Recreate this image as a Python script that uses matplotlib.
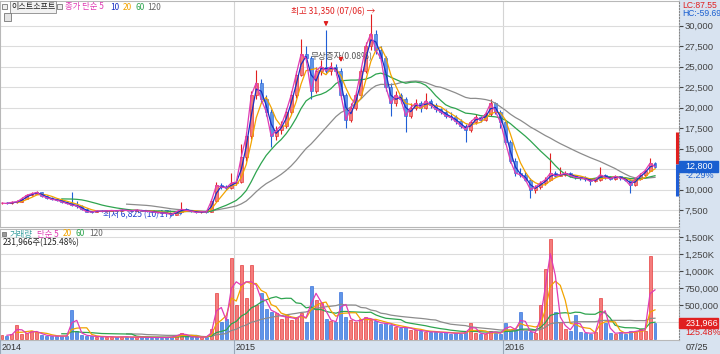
import numpy as np
import pandas as pd
import matplotlib
matplotlib.use('Agg')
import matplotlib.pyplot as plt
from matplotlib.patches import Rectangle
from matplotlib.ticker import FixedLocator, FixedFormatter

plt.rcParams['font.family'] = ['Noto Sans CJK KR', 'DejaVu Sans']

# 이스트소프트, weekly samples 2014-01 .. 2016-07-25
opens = [8300, 8350, 8300, 8450, 8500, 8900, 9300, 9500, 9650, 9200,
         9000, 8800, 8700, 8500, 8300, 8100, 8000, 7600, 7300, 7250,
         7400, 7350, 7400, 7450, 7400, 7500, 7450, 7400, 7500, 7400,
         7350, 7300, 7200, 7150, 7100, 6950, 7300, 7600, 7450, 7350,
         7200, 7300, 7250, 8600, 10500, 10300, 10200, 10800, 10900, 14000,
         16500, 21500, 23000, 21000, 19500, 16500, 17200, 17800, 19500, 21500,
         24000, 26500, 26000, 22000, 24500, 25000, 24500, 25000, 24500, 21500,
         18500, 20000, 21500, 24500, 27500, 29000, 27000, 26000, 22500, 20500,
         21500, 21000, 19000, 20000, 20500, 20000, 20800, 20300, 19800, 19500,
         19000, 18800, 18300, 17800, 17300, 18200, 18800, 18500, 19200, 20500,
         19500, 18200, 15800, 13500, 12000, 11800, 11200, 10000, 10300, 10800,
         11200, 12000, 11700, 11800, 12000, 11700, 11500, 11400, 11300, 11000,
         11200, 11800, 11500, 11300, 11600, 11400, 11200, 10500, 11300, 11800,
         12300, 13200]
highs = [8500, 8450, 8600, 8700, 9100, 9400, 9700, 9800, 9700, 9300,
         9100, 8950, 8800, 8600, 9700, 8600, 8100, 7700, 7400, 7500,
         7450, 7500, 7550, 7500, 7650, 7600, 7500, 7650, 7550, 7450,
         7400, 7350, 7300, 7200, 7150, 7400, 8480, 7700, 7500, 7400,
         7400, 7350, 8800, 10900, 10800, 10500, 12000, 11200, 15600, 17000,
         22000, 24600, 23500, 21500, 19800, 17800, 18300, 20000, 22000, 24500,
         28400, 27500, 26300, 25000, 25800, 29400, 25500, 25300, 24800, 21800,
         20500, 22000, 25000, 28000, 31350, 29500, 27500, 26300, 23000, 22000,
         21800, 21300, 20500, 21000, 20800, 21800, 21000, 20500, 20000, 19800,
         19400, 19100, 18600, 18000, 18500, 19200, 19000, 19500, 21000, 20700,
         19700, 18400, 16000, 13800, 12600, 12100, 11400, 10600, 11000, 11500,
         14400, 12300, 12800, 12300, 12100, 11800, 11700, 11600, 11400, 11400,
         12700, 11900, 11700, 11800, 11700, 11500, 11300, 11400, 12000, 12500,
         13800, 13300]
lows = [8200, 8200, 8250, 8400, 8450, 8800, 9200, 9400, 9100, 8900,
        8700, 8600, 8400, 8200, 8000, 7800, 7500, 7200, 7150, 7200,
        7250, 7300, 7350, 7300, 7350, 7400, 7300, 7350, 7350, 7300,
        7200, 7100, 7050, 7000, 6825, 6900, 7250, 7350, 7250, 7100,
        7150, 7150, 7200, 8500, 10100, 10000, 10100, 10500, 10800, 13500,
        16200, 21000, 20500, 19000, 15200, 16000, 16800, 17500, 19200, 21200,
        23800, 25500, 21000, 21800, 24000, 24200, 24000, 24000, 21000, 17500,
        18200, 19700, 21200, 24200, 27000, 26500, 25500, 22000, 19000, 20200,
        20500, 17000, 18700, 19700, 19500, 19800, 20000, 19500, 19200, 18700,
        18500, 18000, 17500, 15800, 17000, 18000, 18200, 18300, 19000, 19200,
        17500, 15500, 13200, 11700, 11500, 11000, 9000, 9600, 10100, 10600,
        11000, 11500, 11600, 11600, 11500, 11300, 11200, 11100, 10600, 10900,
        11100, 11300, 11200, 11200, 11200, 11000, 9570, 10400, 11200, 11700,
        12200, 12600]
closes = [8350, 8300, 8450, 8500, 8900, 9300, 9500, 9650, 9200, 9000,
          8800, 8700, 8500, 8300, 8100, 8000, 7600, 7300, 7250, 7400,
          7350, 7400, 7450, 7400, 7500, 7450, 7400, 7500, 7400, 7350,
          7300, 7200, 7150, 7100, 6950, 7300, 7600, 7450, 7350, 7200,
          7300, 7250, 8600, 10500, 10300, 10200, 10800, 10900, 14000, 16500,
          21500, 23000, 21000, 19500, 16500, 17200, 17800, 19500, 21500, 24000,
          26500, 26000, 22000, 24500, 25000, 24500, 25000, 24500, 21500, 18500,
          20000, 21500, 24500, 27500, 29000, 27000, 26000, 22500, 20500, 21500,
          21000, 19000, 20000, 20500, 20000, 20800, 20300, 19800, 19500, 19000,
          18800, 18300, 17800, 17300, 18200, 18800, 18500, 19200, 20500, 19500,
          18200, 15800, 13500, 12000, 11800, 11200, 10000, 10300, 10800, 11200,
          12000, 11700, 11800, 12000, 11700, 11500, 11400, 11300, 11000, 11200,
          11800, 11500, 11300, 11600, 11400, 11200, 10500, 11300, 11800, 12300,
          13200, 12800]
volumes = [60, 50, 80, 200, 70, 90, 120, 100, 60, 50,
           40, 45, 40, 50, 430, 120, 60, 50, 40, 35,
           30, 35, 30, 25, 35, 30, 25, 30, 25, 25,
           20, 25, 20, 25, 30, 60, 90, 40, 30, 25,
           30, 30, 150, 680, 250, 300, 1190, 500, 1090, 600,
           1090, 500, 680, 450, 400, 380, 300, 350, 280, 320,
           380, 250, 780, 570, 530, 300, 260, 250, 700, 320,
           280, 250, 300, 320, 280, 260, 220, 240, 200, 180,
           160, 180, 140, 130, 120, 110, 100, 110, 90, 100,
           80, 90, 80, 100, 235, 90, 80, 70, 120, 90,
           80, 235, 130, 150, 400, 120, 100, 90, 500, 1040,
           1480, 400, 250, 150, 120, 350, 100, 90, 80, 100,
           600, 235, 90, 80, 100, 80, 120, 100, 150, 120,
           1220, 232]  # thousand shares

year_labels = ['2014', '2015', '2016']
year_first_idx = [0, 47, 101]
last_date = '07/25'
prev_close = 13100
limit_rate = 0.30
last_volume = 231966
volume_ratio = '125.48%'
low_note = '최저 6,825 (10/17) →'
high_note = '최고 31,350 (07/06) →'
event_note = '무상증자(0.08%)'
event_idx = [65, 68]

price_grid = [7500, 10000, 12500, 15000, 17500, 20000, 22500, 25000, 27500, 30000]
price_ticks = [7500, 10000, 15000, 17500, 20000, 22500, 25000, 27500, 30000]
vol_grid = [250000, 500000, 750000, 1000000, 1250000, 1500000]
vol_ticks = [500000, 750000, 1000000, 1250000, 1500000]
vol_tick_labels = ['500,000', '750,000', '1,000K', '1,250K', '1,500K']

ma_colors = {'5': '#e03cb4', '10': '#1a2fc4', '20': '#f2a400', '60': '#2ea44f', '120': '#8c8c8c'}
NUM = 'Liberation Sans'

W, H = 720, 354
STRIP = '#d8e3f0'
fig = plt.figure(figsize=(7.2, 3.54), dpi=100)
fig.patch.set_facecolor('white')
fig.patches.append(Rectangle((679 / W, 0), 1, 1, transform=fig.transFigure, color=STRIP, zorder=-2))
fig.patches.append(Rectangle((0, 0), 1, 14 / H, transform=fig.transFigure, color=STRIP, zorder=-2))

ax_p = fig.add_axes([0, 1 - 227 / H, 679 / W, 226 / H])
ax_v = fig.add_axes([0, 14 / H, 679 / W, 111 / H])

idx = np.arange(len(closes))
o = np.array(opens); c = np.array(closes)
hi = np.array(highs); lo = np.array(lows)
vol = np.array(volumes) * 1000
up = c >= o
body = np.where(up, '#f47c7c', '#5f95e8')
edge = np.where(up, '#e02020', '#1f5ed6')

step = 653 / (len(closes) - 1)
xl = (-2 / step, 677 / step)

for ax in (ax_p, ax_v):
    ax.set_xlim(*xl)
    ax.set_facecolor('white')
    for s in ax.spines.values():
        s.set_color('#b8b8b8')
        s.set_linewidth(0.8)
    ax.spines['right'].set_linestyle(':')
    ax.spines['right'].set_color('#888888')
    ax.set_xticks([])
    for yi in year_first_idx[1:]:
        ax.axvline(yi - 0.5, color='#d4d4d4', lw=0.8, zorder=0)

# price panel
ax_p.set_ylim(5430, 32990)
for p in price_grid:
    ax_p.axhline(p, color='#dcdcdc', lw=0.8, zorder=0)
ax_p.vlines(idx, lo, hi, colors=edge, lw=0.8, zorder=2)
ax_p.bar(idx, np.maximum(np.abs(c - o), 80), bottom=np.minimum(o, c), width=0.6,
         color=body, edgecolor=edge, lw=0.4, zorder=3)
cs = pd.Series(closes, dtype=float)
for win, key in [(26, '120'), (13, '60'), (4, '20'), (2, '10'), (1, '5')]:
    ax_p.plot(idx, cs.rolling(win).mean(), color=ma_colors[key], lw=0.9, zorder=4)

ax_p.yaxis.tick_right()
ax_p.yaxis.set_major_locator(FixedLocator(price_ticks))
ax_p.yaxis.set_major_formatter(FixedFormatter([f'{p:,}' for p in price_ticks]))
ax_p.tick_params(axis='y', direction='out', length=3, pad=1, labelsize=6.8,
                 colors='#444444')
for t in ax_p.get_yticklabels():
    t.set_family(NUM)

# daily limit range bar and current price box
up_lim = prev_close * (1 + limit_rate)
dn_lim = prev_close * (1 - limit_rate)
ax_p.vlines(xl[1] - 0.45, prev_close, up_lim, color='#e02020', lw=2.2, zorder=5)
ax_p.vlines(xl[1] - 0.45, dn_lim, prev_close, color='#1f5ed6', lw=2.2, zorder=5)
chg = (closes[-1] - prev_close) / prev_close * 100
ytr = ax_p.get_yaxis_transform()
ax_p.add_patch(Rectangle((1.0, closes[-1] - 620), 0.058, 1240, transform=ytr,
                         color='#1a5fd0', clip_on=False, zorder=6))
ax_p.text(1.01, closes[-1], f'{closes[-1]:,}', transform=ytr, color='white',
          fontsize=6.5, family=NUM, va='center', ha='left', zorder=7)
ax_p.text(1.01, closes[-1] - 1150, f'{chg:.2f}%', transform=ytr, color='#1a5fd0',
          fontsize=6.5, family=NUM, va='center', ha='left', zorder=7)

# annotations
ax_p.text(20.3, 6950, low_note, color='#2040d0', fontsize=6.2, va='center', ha='left')
ax_p.text(58.0, 31700, high_note, color='#e02020', fontsize=6.2, va='center', ha='left')
ax_p.text(61.8, 26200, event_note, color='#555555', fontsize=6.2, va='center', ha='left')
for ei in event_idx:
    ax_p.annotate('', xy=(ei, highs[ei] + 150 if ei == 65 else 25200),
                  xytext=(ei, highs[ei] + 1300 if ei == 65 else 26300),
                  arrowprops=dict(arrowstyle='-|>', color='#e02020', lw=0.9,
                                  mutation_scale=6), zorder=8)

# volume panel
ax_v.set_ylim(-15000, 1625000)
for v in vol_grid:
    ax_v.axhline(v, color='#dcdcdc', lw=0.8, zorder=0)
ax_v.bar(idx, vol, width=0.6, color=body, edgecolor=edge, lw=0.4, zorder=2)
vs = pd.Series(vol, dtype=float)
for win, key in [(26, '120'), (13, '60'), (4, '20'), (2, '5')]:
    ax_v.plot(idx, vs.rolling(win).mean(), color=ma_colors[key], lw=0.9, zorder=3)
ax_v.yaxis.tick_right()
ax_v.yaxis.set_major_locator(FixedLocator(vol_ticks))
ax_v.yaxis.set_major_formatter(FixedFormatter(vol_tick_labels))
ax_v.tick_params(axis='y', direction='out', length=3, pad=1, labelsize=6.8,
                 colors='#444444')
for t in ax_v.get_yticklabels():
    t.set_family(NUM)
vtr = ax_v.get_yaxis_transform()
ax_v.add_patch(Rectangle((1.0, last_volume - 72000), 0.058, 144000, transform=vtr,
                         color='#e02020', clip_on=False, zorder=6))
ax_v.text(1.01, last_volume, f'{last_volume:,}', transform=vtr, color='white',
          fontsize=6.5, family=NUM, va='center', ha='left', zorder=7)
ax_v.text(1.01, last_volume - 140000, volume_ratio, transform=vtr, color='#e02020',
          fontsize=6.5, family=NUM, va='center', ha='left', zorder=7)


def fx(px):
    return px / W


def fy(py):
    return 1 - py / H


def icon(px, py, w, h, fc='#eeeeee'):
    fig.patches.append(Rectangle((fx(px), fy(py + h)), w / W, h / H, transform=fig.transFigure,
                                 fc=fc, ec='#777777', lw=0.6, zorder=5))


# header of price panel
icon(2, 4, 5, 5)
fig.text(fx(11), fy(7), '이스트소프트', fontsize=5.8, va='center', color='#222222',
         bbox=dict(boxstyle='square,pad=0.15', fc='#f2f2f2', ec='#8a8a8a', lw=0.6))
icon(57, 4, 5, 5)
fig.text(fx(65), fy(7), '종가 단순 5', fontsize=6, color=ma_colors['5'], va='center')
fig.text(fx(110), fy(7), '10', fontsize=6, color=ma_colors['10'], va='center')
fig.text(fx(123), fy(7), '20', fontsize=6, color=ma_colors['20'], va='center')
fig.text(fx(135), fy(7), '60', fontsize=6, color=ma_colors['60'], va='center')
fig.text(fx(147), fy(7), '120', fontsize=6, color='#666666', va='center')
icon(4, 13, 7, 8, fc='#e4e4e4')
fig.text(fx(682), fy(5), 'LC:87.55', fontsize=6.2, family=NUM, color='#e02020', va='center')
fig.text(fx(682), fy(13), 'HC:-59.69', fontsize=6.2, family=NUM, color='#1a5fd0', va='center')

# header of volume panel
icon(2, 232, 4, 4, fc='#999999')
fig.text(fx(10), fy(234), '거래량', fontsize=6, color='#3aa0a0', va='center')
fig.text(fx(37), fy(234), '단순 5', fontsize=6, color=ma_colors['5'], va='center')
fig.text(fx(63), fy(234), '20', fontsize=6, color=ma_colors['20'], va='center')
fig.text(fx(76), fy(234), '60', fontsize=6, color=ma_colors['60'], va='center')
fig.text(fx(89), fy(234), '120', fontsize=6, color='#666666', va='center')
fig.text(fx(3), fy(243), f'{last_volume:,}주({volume_ratio})', fontsize=6,
         color='#222222', va='center')

# date strip
for lab, yi in zip(year_labels, year_first_idx):
    xp = 2 + (yi - 0.5) * step if yi else 0
    fig.lines.append(plt.Line2D([fx(xp), fx(xp)], [fy(340), fy(354)],
                                transform=fig.transFigure, color='#9aa8b8', lw=0.8))
    fig.text(fx(xp + 2), fy(347), lab, fontsize=6.5, family=NUM, color='#333333', va='center')
fig.text(fx(686), fy(347), last_date, fontsize=6.5, family=NUM, color='#333333', va='center')

fig.savefig('out.png', dpi=100)
